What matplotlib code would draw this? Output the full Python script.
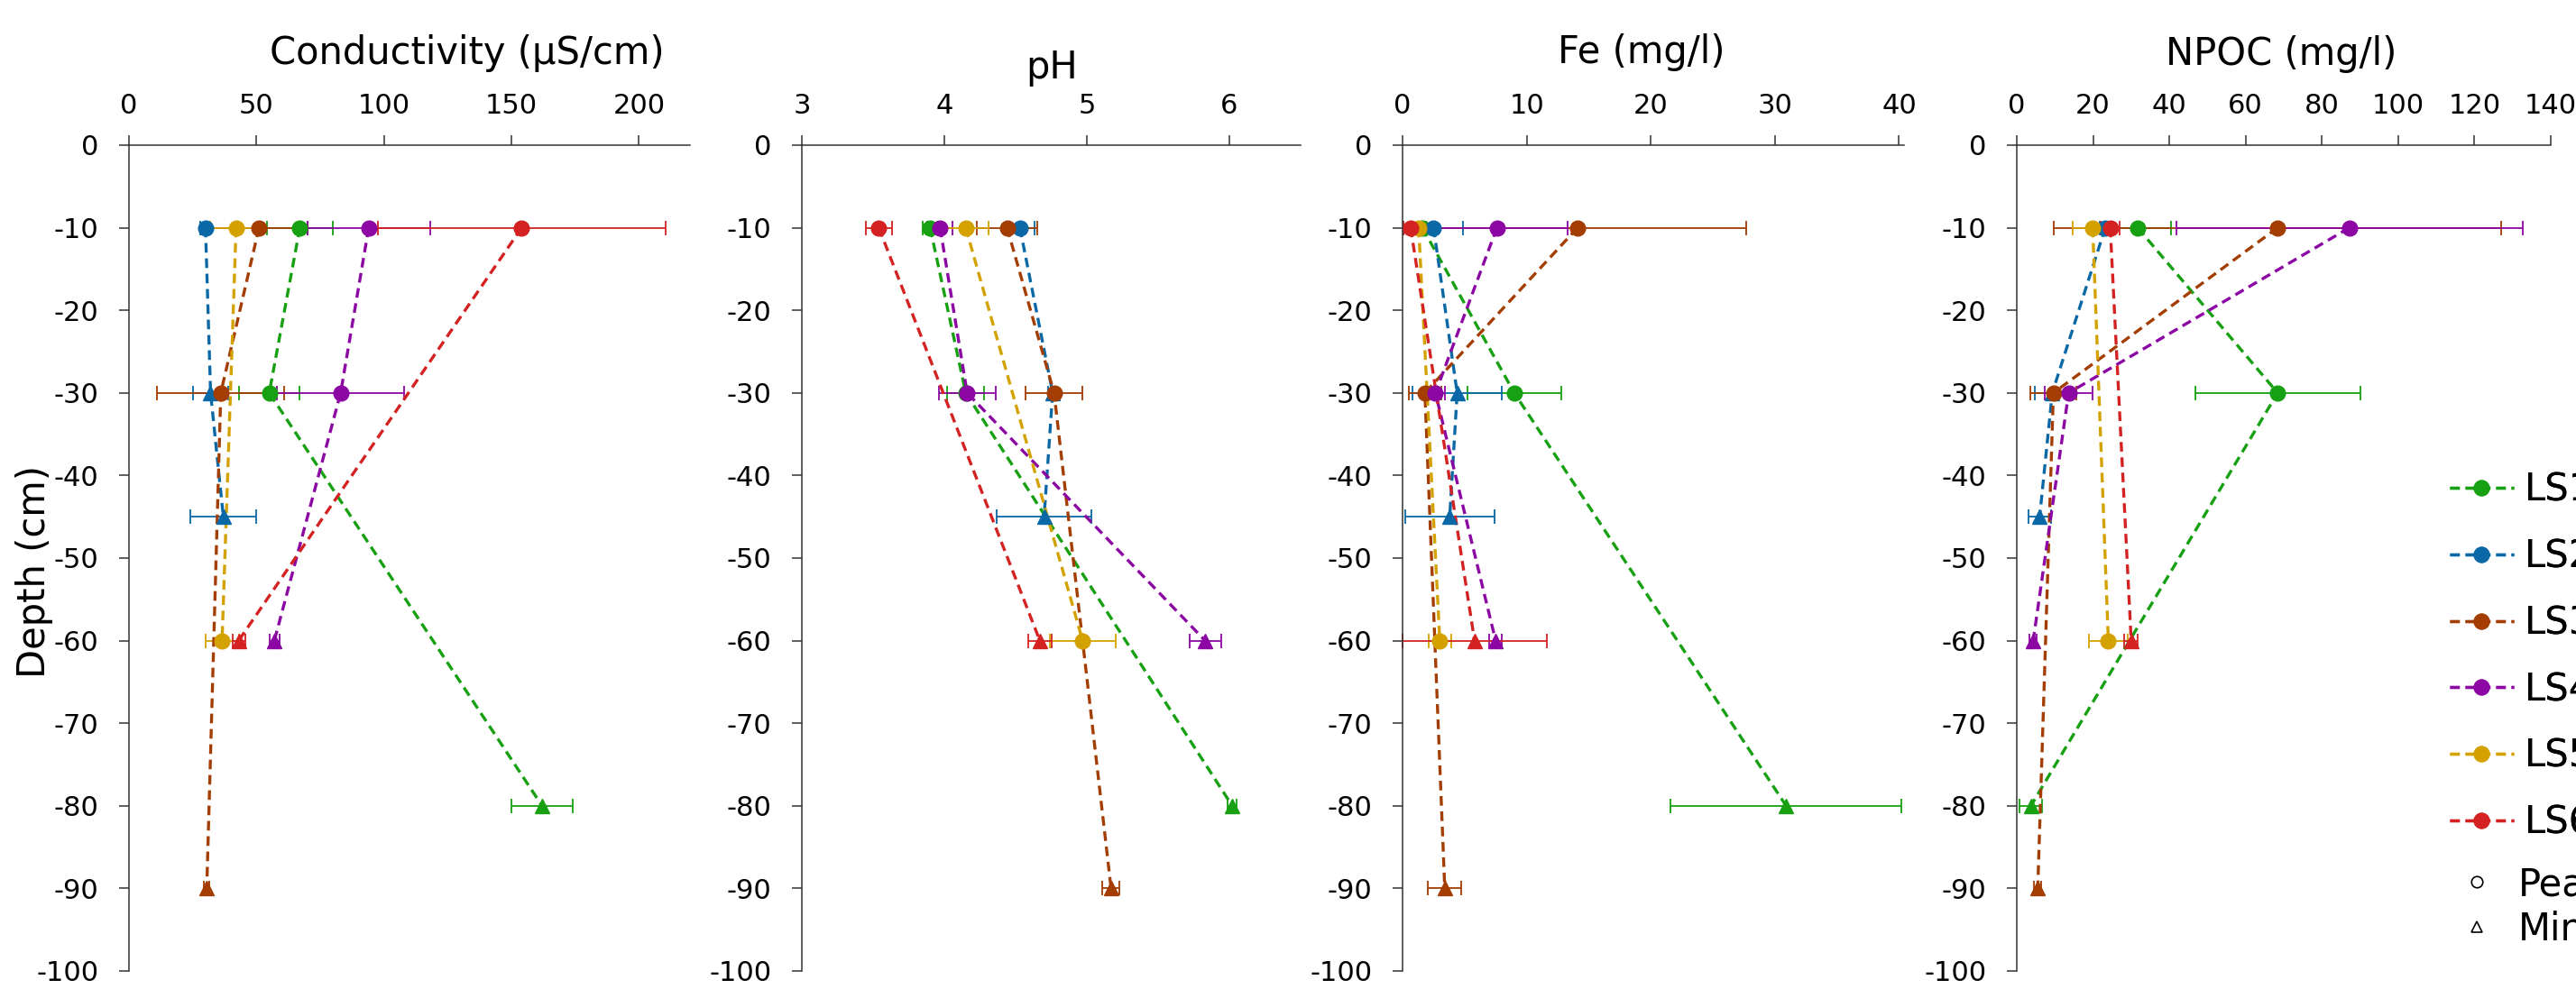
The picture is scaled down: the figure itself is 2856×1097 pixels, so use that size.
import numpy as np
import matplotlib
matplotlib.use("Agg")
import matplotlib.pyplot as plt
from matplotlib.lines import Line2D

plt.rcParams['font.family'] = ['DejaVu Sans']
plt.rcParams['axes.unicode_minus'] = False

# sites, colours and sampling depths (cm)
sites = ['LS1', 'LS2', 'LS3', 'LS4', 'LS5', 'LS6']
colors = ['#16a012', '#0a68a6', '#a33d02', '#8c06a3', '#d4a200', '#d42222']
depths = {
    'LS1': [-10, -30, -80],
    'LS2': [-10, -30, -45],
    'LS3': [-10, -30, -90],
    'LS4': [-10, -30, -60],
    'LS5': [-10, -60],
    'LS6': [-10, -60],
}
# o = peat, ^ = mineral
layer = {
    'LS1': ['o', 'o', '^'],
    'LS2': ['o', '^', '^'],
    'LS3': ['o', 'o', '^'],
    'LS4': ['o', 'o', '^'],
    'LS5': ['o', 'o'],
    'LS6': ['o', '^'],
}

cond = {'LS1': [67, 55, 162], 'LS2': [30, 32, 37], 'LS3': [51, 36, 30.5],
        'LS4': [94, 83, 57], 'LS5': [42, 36.5], 'LS6': [154, 43]}
cond_err = {'LS1': [13, 12, 12], 'LS2': [2, 7, 13], 'LS3': [19, 25, 1],
            'LS4': [24, 25, 2], 'LS5': [10, 6.5], 'LS6': [56.5, 2.5]}

ph = {'LS1': [3.90, 4.15, 6.02], 'LS2': [4.53, 4.76, 4.70], 'LS3': [4.44, 4.77, 5.17],
      'LS4': [3.97, 4.16, 5.83], 'LS5': [4.15, 4.97], 'LS6': [3.54, 4.67]}
ph_err = {'LS1': [0.05, 0.13, 0.03], 'LS2': [0.10, 0.03, 0.33], 'LS3': [0.21, 0.20, 0.06],
          'LS4': [0.09, 0.20, 0.11], 'LS5': [0.16, 0.23], 'LS6': [0.09, 0.08]}

fe = {'LS1': [1.6, 9.0, 30.9], 'LS2': [2.5, 4.4, 3.8], 'LS3': [14.1, 1.8, 3.4],
      'LS4': [7.6, 2.65, 7.5], 'LS5': [1.3, 3.0], 'LS6': [0.65, 5.8]}
fe_err = {'LS1': [0.3, 3.8, 9.3], 'LS2': [2.4, 3.6, 3.6], 'LS3': [13.6, 1.3, 1.35],
          'LS4': [5.7, 0.8, 0.5], 'LS5': [0.5, 0.9], 'LS6': [0.6, 5.8]}

npoc = {'LS1': [31.7, 68.4, 3.7], 'LS2': [23.2, 9.3, 6.0], 'LS3': [68.4, 9.6, 5.5],
        'LS4': [87.2, 13.6, 4.3], 'LS5': [19.9, 24.0], 'LS6': [24.5, 30.0]}
npoc_err = {'LS1': [8.7, 21.6, 3], 'LS2': [1.5, 4.5, 3], 'LS3': [58.6, 6, 1],
            'LS4': [45.4, 6.3, 1], 'LS5': [5.3, 5], 'LS6': [2.5, 1.8]}

titles = ['Conductivity (μS/cm)', 'pH', 'Fe (mg/l)', 'NPOC (mg/l)']
xlims = [(0, 220), (3, 6.5), (0, 40.4), (0, 140)]
xticks = [[0, 50, 100, 150, 200], [3, 4, 5, 6], [0, 10, 20, 30, 40],
          [0, 20, 40, 60, 80, 100, 120, 140]]
yticks = list(range(-100, 1, 10))

W, H = 2856, 1097
fig = plt.figure(figsize=(W / 100, H / 100), dpi=100)

# plot areas in pixels: left, right
boxes = [(143, 765), (889, 1442), (1555, 2111), (2236, 2828)]
top_px, bot_px = 161, 1077
title_pos = [(518, 71), (1166, 87), (1820, 70), (2529, 72)]

panels = [(cond, cond_err), (ph, ph_err), (fe, fe_err), (npoc, npoc_err)]
dash = (0, (3.2, 1.9))

for i, (vals, errs) in enumerate(panels):
    l, r = boxes[i]
    ax = fig.add_axes([l / W, 1 - bot_px / H, (r - l) / W, (bot_px - top_px) / H])
    for s, c in zip(sites, colors):
        d = depths[s]
        v = vals[s]
        e = errs[s]
        ax.plot(v, d, color=c, ls=dash, lw=2.4, zorder=3, clip_on=False)
        ax.errorbar(v, d, xerr=e, fmt='none', ecolor=c, elinewidth=1.3,
                    capsize=6, capthick=1.3, zorder=2, clip_on=False)
        for x, y, m in zip(v, d, layer[s]):
            ax.plot([x], [y], ls='', marker=m, color=c, ms=12 if m == 'o' else 11,
                    zorder=4, clip_on=False)
    ax.set_xlim(*xlims[i])
    ax.set_ylim(-100, 0)
    ax.set_xticks(xticks[i])
    ax.set_yticks(yticks)
    ax.xaxis.tick_top()
    for sp in ['bottom', 'right']:
        ax.spines[sp].set_visible(False)
    for sp in ['top', 'left']:
        ax.spines[sp].set_color('#333333')
        ax.spines[sp].set_linewidth(1.1)
    ax.tick_params(axis='x', direction='out', length=8, width=1.1, color='#333333',
                   labelsize=22, pad=13)
    ax.tick_params(axis='y', direction='out', length=8, width=1.1, color='#333333',
                   labelsize=22, pad=16)
    ax.patch.set_alpha(0)
    fig.text(title_pos[i][0] / W, 1 - title_pos[i][1] / H, titles[i],
             ha='center', va='baseline', fontsize=30)

fig.text(38 / W, 1 - 634 / H, 'Depth (cm)', rotation=90, ha='center', va='center',
         fontsize=30)

handles = [Line2D([], [], color=c, ls=dash, lw=2.4, marker='o', ms=12)
           for c in colors]
leg1 = fig.legend(handles, sites, loc='upper left', bbox_to_anchor=(2716 / W, 1 - 523 / H),
                  frameon=False, fontsize=30, handlelength=1.7, handletextpad=0.3,
                  labelspacing=0.76, borderpad=0, borderaxespad=0, numpoints=1)
fig.add_artist(leg1)

kinds = [Line2D([], [], ls='', marker='o', mfc='none', mec='black', mew=1.2, ms=9),
         Line2D([], [], ls='', marker='^', mfc='none', mec='black', mew=1.2, ms=9)]
fig.legend(kinds, ['Peat', 'Mineral'], loc='upper left',
           bbox_to_anchor=(2725 / W, 1 - 960 / H), frameon=False, fontsize=30,
           handlelength=1.0, handletextpad=0.6, labelspacing=0.19, borderpad=0,
           borderaxespad=0)

fig.savefig('out.png', dpi=100)
